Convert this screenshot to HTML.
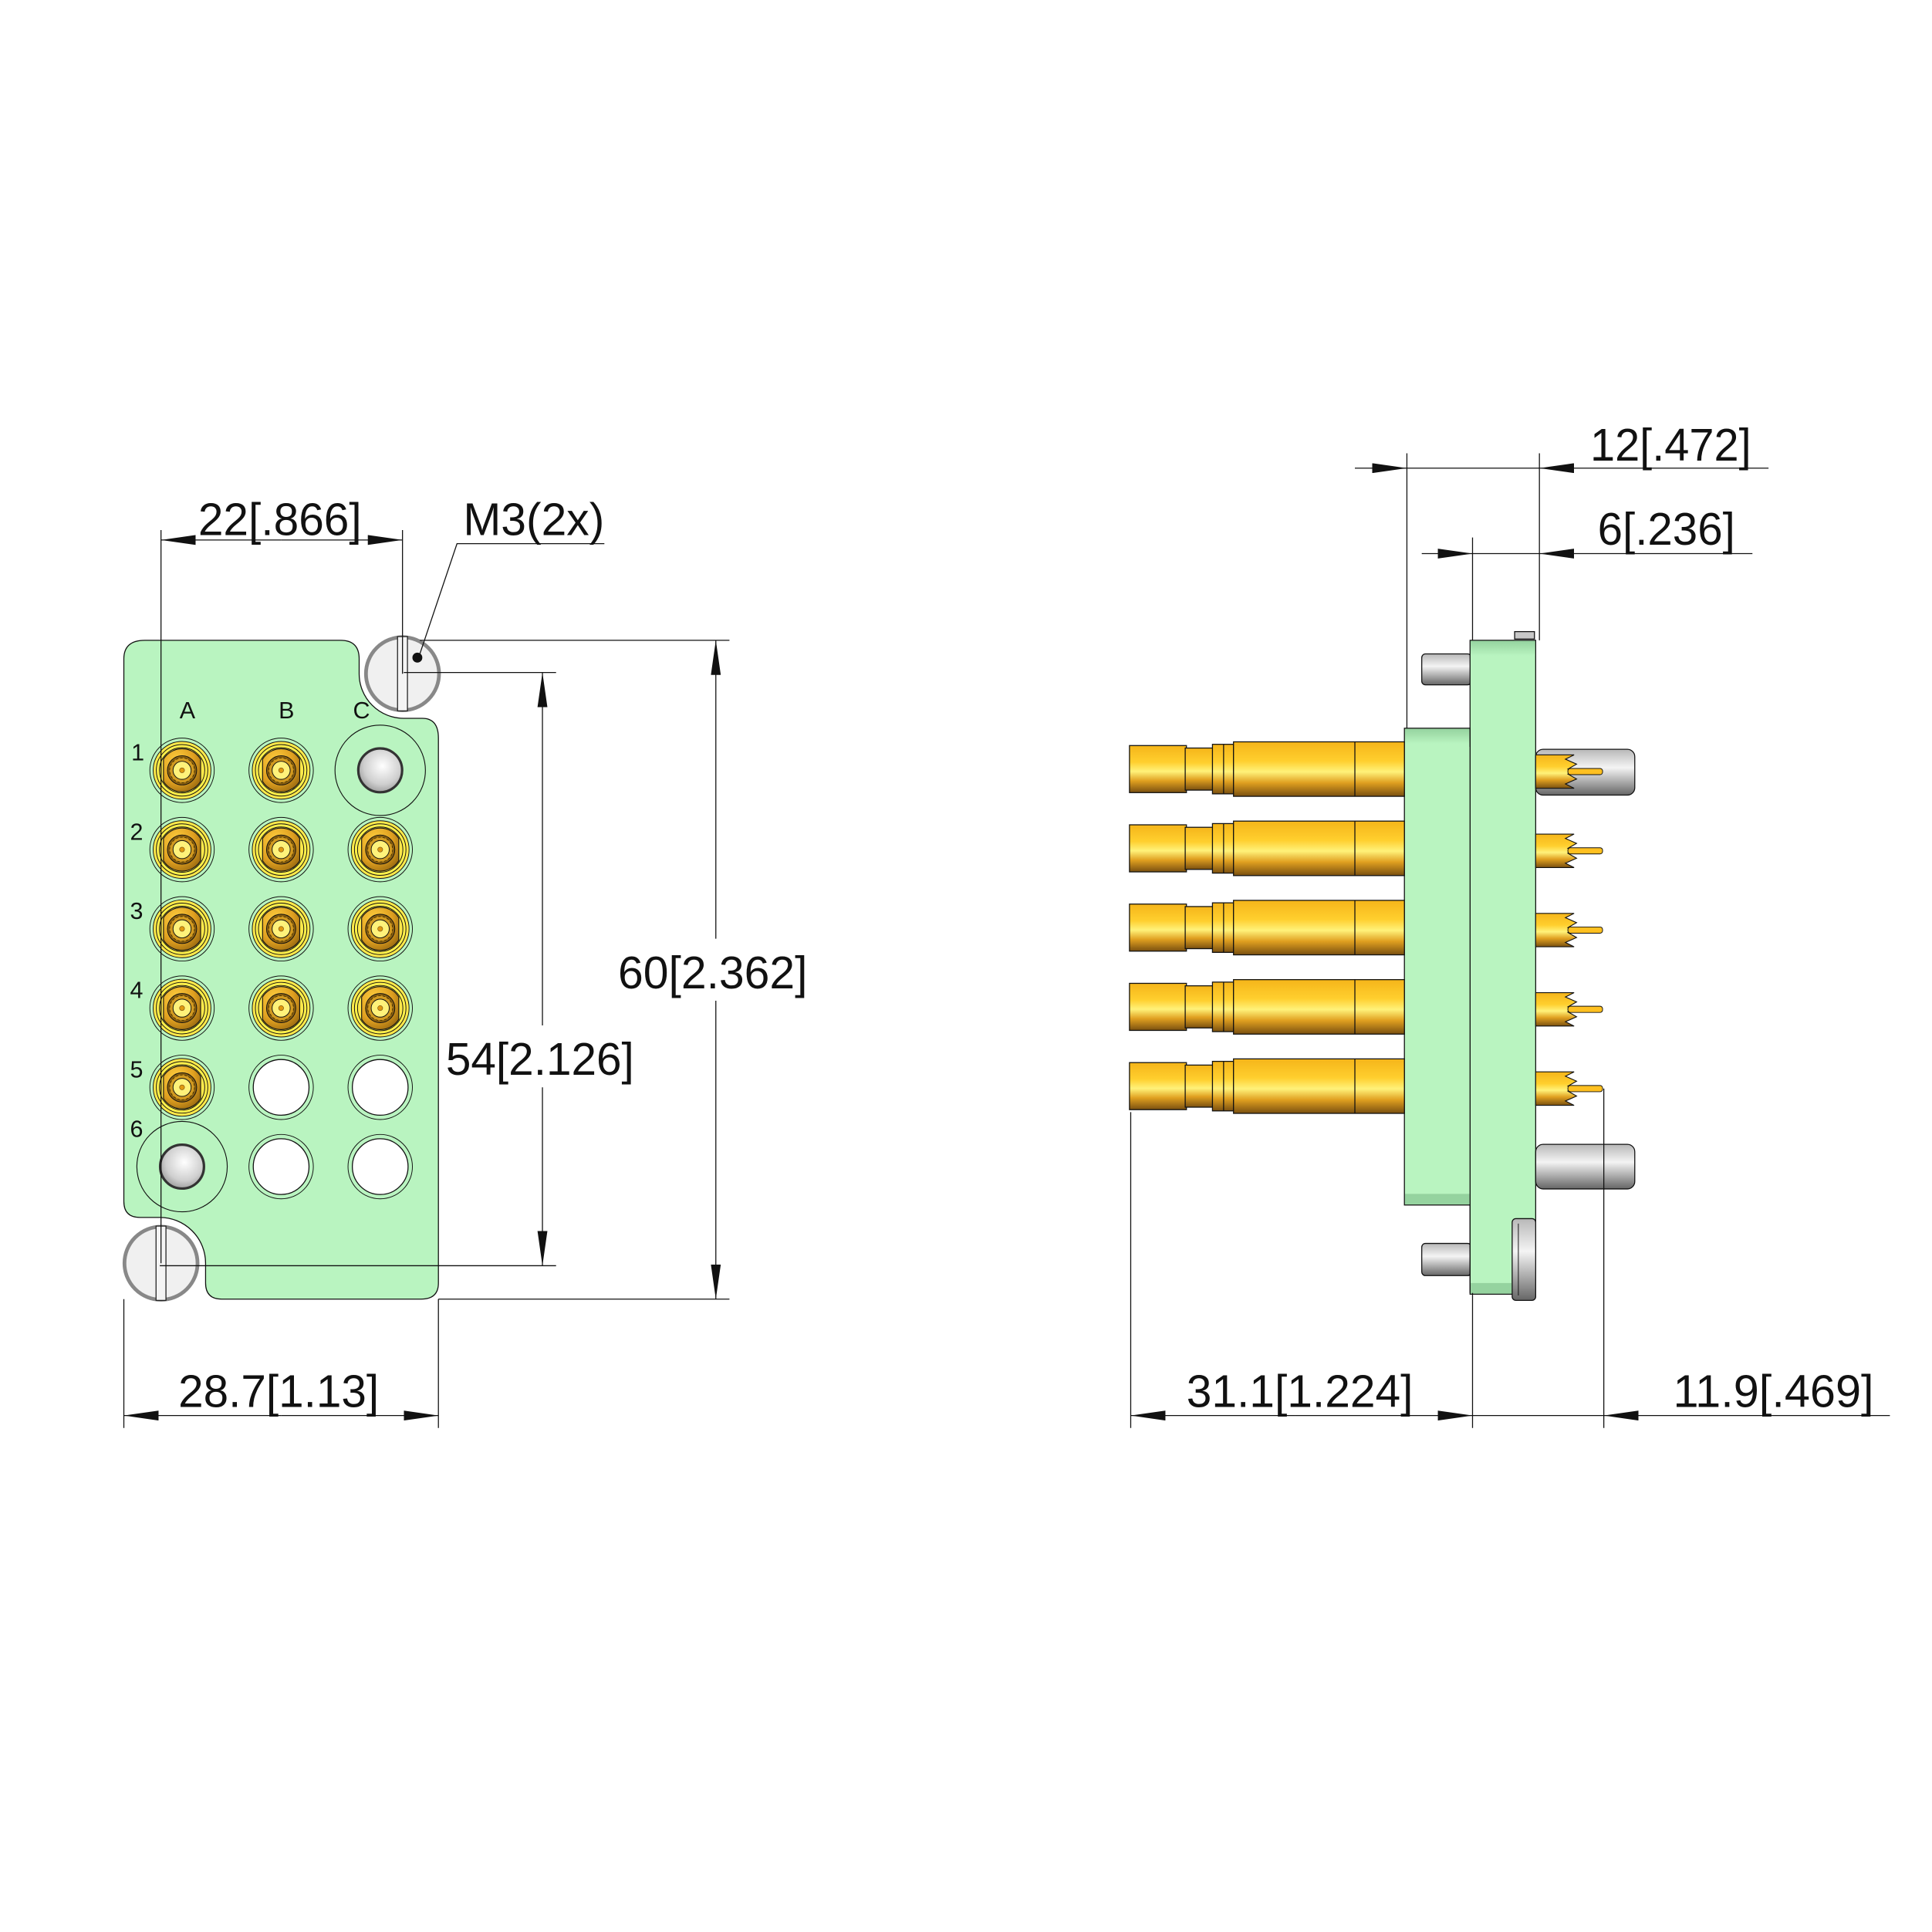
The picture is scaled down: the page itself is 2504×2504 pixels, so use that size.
<!DOCTYPE html>
<html><head><meta charset="utf-8"><style>
html,body{margin:0;padding:0;background:#fff}
svg{display:block}
text{font-family:"Liberation Sans","DejaVu Sans",sans-serif;fill:#111}
</style></head><body>
<svg width="2504" height="2504" viewBox="0 0 1560 1560" xmlns="http://www.w3.org/2000/svg">
<defs>
<linearGradient id="gv" x1="0" y1="0" x2="0" y2="1">
<stop offset="0" stop-color="#f5b51a"/><stop offset="0.35" stop-color="#ffcf2e"/><stop offset="0.55" stop-color="#fff27a"/><stop offset="0.75" stop-color="#e0a020"/><stop offset="1" stop-color="#7a5010"/></linearGradient>
<linearGradient id="sv" x1="0" y1="0" x2="0" y2="1">
<stop offset="0" stop-color="#b8b8b8"/><stop offset="0.4" stop-color="#f4f4f4"/><stop offset="1" stop-color="#666"/></linearGradient>
<linearGradient id="gb" x1="0" y1="0" x2="0" y2="1">
<stop offset="0" stop-color="#95d39f"/><stop offset="1" stop-color="#b9f4c0"/></linearGradient>
<radialGradient id="gr" cx="0.35" cy="0.3" r="0.8">
<stop offset="0" stop-color="#ffd040"/><stop offset="0.6" stop-color="#e0a020"/><stop offset="1" stop-color="#9a6a10"/></radialGradient>
<radialGradient id="ball" cx="0.55" cy="0.4" r="0.7">
<stop offset="0" stop-color="#fff"/><stop offset="0.6" stop-color="#cfcfcf"/><stop offset="1" stop-color="#888"/></radialGradient>
<g id="ct">
<circle r="26" fill="none" stroke="#111" stroke-width="0.6"/>
<circle r="23.3" fill="#ffe94a" stroke="#111" stroke-width="0.6"/>
<circle r="20.8" fill="#fff04a" stroke="#111" stroke-width="0.6"/>
<circle r="18.3" fill="#ffe94a" stroke="#111" stroke-width="0.6"/>
<path d="M-15,-9 A17.6,17.6 0 0 1 15,-9 L15,9 A17.6,17.6 0 0 1 -15,9 Z" fill="url(#gr)" stroke="#111" stroke-width="0.7"/>
<circle r="11.8" fill="#8a6010" stroke="#111" stroke-width="0.6"/>
<circle r="10" fill="#d29a20" stroke="#3a2a00" stroke-width="0.5" stroke-dasharray="2 1.5"/>
<circle r="7.3" fill="#fff27a" stroke="#111" stroke-width="0.6"/>
<circle r="2" fill="#e09a10" stroke="#7a5010" stroke-width="0.4"/>
</g>
<g id="hole"><circle r="26" fill="none" stroke="#111" stroke-width="0.6"/><circle r="22.5" fill="#fff" stroke="#111" stroke-width="0.8"/></g>
<g id="gp"><circle r="36.5" fill="none" stroke="#111" stroke-width="0.7"/><circle r="17.7" fill="url(#ball)" stroke="#333" stroke-width="2"/></g>
<g id="scr"><circle r="29.5" fill="#f0f0f0" stroke="#888" stroke-width="3"/><rect x="-4" y="-30" width="8" height="60" fill="#f4f4f4" stroke="#222" stroke-width="0.8"/></g>
<g id="lc">
<rect x="916" y="-19" width="46" height="38" fill="url(#gv)" stroke="#111" stroke-width="0.8"/>
<rect x="961" y="-17" width="23" height="34" fill="url(#gv)" stroke="#111" stroke-width="0.8"/>
<rect x="983" y="-20" width="17" height="40" fill="url(#gv)" stroke="#111" stroke-width="0.8"/>
<line x1="992" y1="-20" x2="992" y2="20" stroke="#111" stroke-width="0.8"/>
<rect x="1000" y="-22" width="138" height="44" fill="url(#gv)" stroke="#111" stroke-width="0.8"/>
<line x1="1098" y1="-22" x2="1098" y2="22" stroke="#111" stroke-width="0.8"/>
</g>
<g id="rc">
<path d="M1244,-13.5 H1275 L1268,-10 L1277,-6 L1270,-2 L1275,0 L1270,2 L1277,6 L1268,10 L1275,13.5 H1244 Z" fill="url(#gv)" stroke="#111" stroke-width="0.7"/>
<rect x="1270" y="-2.5" width="28" height="5" rx="2" fill="#ffc020" stroke="#111" stroke-width="0.6"/>
</g>
<marker id="a" viewBox="0 0 28 8" refX="28" refY="4" markerWidth="28" markerHeight="8" markerUnits="userSpaceOnUse" orient="auto"><path d="M0,0 L28,4 L0,8 Z" fill="#111"/></marker>
</defs>
<g transform="translate(-1,-2)">
<g stroke="#111" stroke-width="0.8" fill="none">
<path d="M118,519 H276 Q291,519 291,534 V546 A36,36 0 0 0 327,582 H342 Q355,582 355,598 V1038 Q355,1051 341,1051 H180 Q167,1051 167,1038 V1022 A37,37 0 0 0 130,985 H114 Q101,985 101,972 V534 Q101,519 118,519 Z" fill="#b9f4c0"/>
</g>
<g>
<use href="#ct" x="148" y="624"/><use href="#ct" x="228" y="624"/><use href="#gp" x="308" y="624"/>
<use href="#ct" x="148" y="688"/><use href="#ct" x="228" y="688"/><use href="#ct" x="308" y="688"/>
<use href="#ct" x="148" y="752"/><use href="#ct" x="228" y="752"/><use href="#ct" x="308" y="752"/>
<use href="#ct" x="148" y="816"/><use href="#ct" x="228" y="816"/><use href="#ct" x="308" y="816"/>
<use href="#ct" x="148" y="880"/><use href="#hole" x="228" y="880"/><use href="#hole" x="308" y="880"/>
<use href="#gp" x="148" y="944"/><use href="#hole" x="228" y="944"/><use href="#hole" x="308" y="944"/>
<use href="#scr" x="326" y="546"/>
<use href="#scr" x="131" y="1022"/>
<circle cx="338" cy="533" r="4" fill="#111"/>
</g>
<g font-size="19" fill="#222">
<text x="146" y="582">A</text><text x="226" y="582">B</text><text x="286" y="582">C</text>
<text x="107" y="616">1</text><text x="106" y="680">2</text><text x="106" y="744">3</text><text x="106" y="808">4</text><text x="106" y="872">5</text><text x="106" y="920">6</text>
</g>
<g stroke="#111" stroke-width="0.8" fill="none">
<line x1="131" y1="430" x2="131" y2="1022"/><line x1="326" y1="430" x2="326" y2="546"/>
<line x1="228" y1="438" x2="131" y2="438" marker-end="url(#a)"/><line x1="228" y1="438" x2="326" y2="438" marker-end="url(#a)"/>
<polyline points="489,441 370,441 339,533"/>
<line x1="340" y1="519" x2="590" y2="519"/><line x1="355" y1="1051" x2="590" y2="1051"/>
<line x1="579" y1="760" x2="579" y2="519" marker-end="url(#a)"/><line x1="579" y1="810" x2="579" y2="1051" marker-end="url(#a)"/>
<line x1="327" y1="545" x2="450" y2="545"/><line x1="130" y1="1024" x2="450" y2="1024"/>
<line x1="439" y1="830" x2="439" y2="545" marker-end="url(#a)"/><line x1="439" y1="880" x2="439" y2="1024" marker-end="url(#a)"/>
<line x1="101" y1="1051" x2="101" y2="1155"/><line x1="355" y1="1051" x2="355" y2="1155"/>
<line x1="228" y1="1145" x2="101" y2="1145" marker-end="url(#a)"/><line x1="228" y1="1145" x2="355" y2="1145" marker-end="url(#a)"/>
</g>
<g font-size="37">
<text x="161" y="434" textLength="132" lengthAdjust="spacingAndGlyphs">22[.866]</text>
<text x="375" y="434" textLength="114" lengthAdjust="spacingAndGlyphs">M3(2x)</text>
<text x="500" y="800" textLength="153" lengthAdjust="spacingAndGlyphs">60[2.362]</text>
<text x="361" y="870" textLength="152" lengthAdjust="spacingAndGlyphs">54[2.126]</text>
<text x="145" y="1138" textLength="162" lengthAdjust="spacingAndGlyphs">28.7[1.13]</text>
</g>
</g>

<g transform="translate(-4,-2)">
<g stroke="#111" stroke-width="0.8">
<rect x="1152" y="530" width="40" height="25" rx="3" fill="url(#sv)"/>
<rect x="1152" y="1006" width="40" height="26" rx="3" fill="url(#sv)"/>
<rect x="1227" y="512" width="16" height="6" fill="#c8c8c8"/>
<rect x="1191" y="519" width="53" height="528" fill="#b9f4c0"/>
<rect x="1138" y="590" width="53" height="385" fill="#b9f4c0"/>
</g>
<rect x="1191.5" y="519.5" width="52" height="12" fill="url(#gb)"/>
<rect x="1138.5" y="590.5" width="52" height="12" fill="url(#gb)"/>
<rect x="1138.5" y="966" width="52" height="8.5" fill="#95d39f"/>
<rect x="1191.5" y="1038" width="33" height="8.5" fill="#95d39f"/>
<line x1="1191" y1="590" x2="1191" y2="605" stroke="#111" stroke-width="0.8"/>
<line x1="1191" y1="975" x2="1191" y2="1046" stroke="#111" stroke-width="0.8"/>
<rect x="1225" y="986" width="19" height="66" rx="3" fill="url(#sv)" stroke="#111" stroke-width="0.8"/>
<line x1="1230" y1="990" x2="1230" y2="1048" stroke="#111" stroke-width="0.6"/>
<rect x="1244" y="607" width="80" height="37" rx="6" fill="url(#sv)" stroke="#111" stroke-width="0.8"/>
<rect x="1244" y="926" width="80" height="36" rx="6" fill="url(#sv)" stroke="#111" stroke-width="0.8"/>
<use href="#lc" y="623"/><use href="#lc" y="687"/><use href="#lc" y="751"/><use href="#lc" y="815"/><use href="#lc" y="879"/>
<use href="#rc" y="625"/><use href="#rc" y="689"/><use href="#rc" y="753"/><use href="#rc" y="817"/><use href="#rc" y="881"/>
<g stroke="#111" stroke-width="0.8" fill="none">
<line x1="1140" y1="368" x2="1140" y2="590"/><line x1="1247" y1="368" x2="1247" y2="519"/>
<line x1="1098" y1="380" x2="1140" y2="380" marker-end="url(#a)"/>
<line x1="1432" y1="380" x2="1247" y2="380" marker-end="url(#a)"/>
<line x1="1140" y1="380" x2="1247" y2="380"/>
<line x1="1193" y1="436" x2="1193" y2="519"/>
<line x1="1152" y1="449" x2="1193" y2="449" marker-end="url(#a)"/>
<line x1="1419" y1="449" x2="1247" y2="449" marker-end="url(#a)"/>
<line x1="1193" y1="449" x2="1247" y2="449"/>
<line x1="917" y1="900" x2="917" y2="1155"/><line x1="1193" y1="1046" x2="1193" y2="1155"/><line x1="1299" y1="881" x2="1299" y2="1155"/>
<line x1="1050" y1="1145" x2="917" y2="1145" marker-end="url(#a)"/>
<line x1="1050" y1="1145" x2="1193" y2="1145" marker-end="url(#a)"/>
<line x1="1193" y1="1145" x2="1299" y2="1145"/>
<line x1="1530" y1="1145" x2="1299" y2="1145" marker-end="url(#a)"/>
</g>
<g font-size="37">
<text x="1288" y="374" textLength="130" lengthAdjust="spacingAndGlyphs">12[.472]</text>
<text x="1294" y="442" textLength="111" lengthAdjust="spacingAndGlyphs">6[.236]</text>
<text x="962" y="1138" textLength="183" lengthAdjust="spacingAndGlyphs">31.1[1.224]</text>
<text x="1355" y="1138" textLength="162" lengthAdjust="spacingAndGlyphs">11.9[.469]</text>
</g>
</g>
</svg>
</body></html>
